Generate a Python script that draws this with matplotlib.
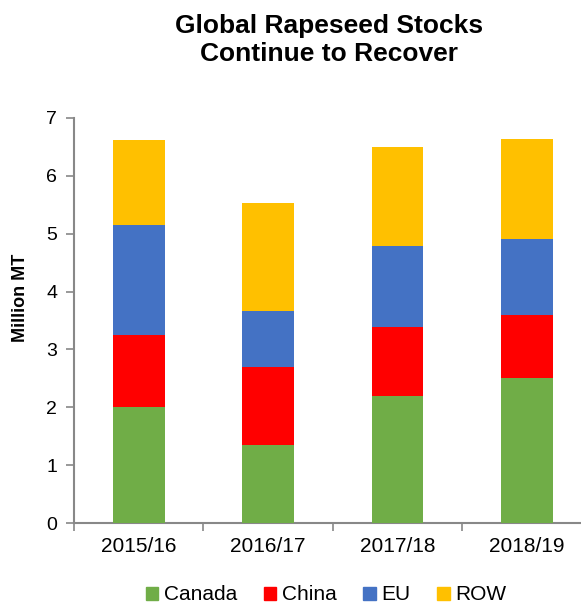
import matplotlib
matplotlib.use("Agg")
import matplotlib.pyplot as plt
import numpy as np
from matplotlib.patches import Patch

plt.rcParams['font.family'] = ['Liberation Sans', 'DejaVu Sans']

years = ["2015/16", "2016/17", "2017/18", "2018/19"]
canada = [2.01, 1.35, 2.20, 2.50]
china = [1.24, 1.34, 1.19, 1.09]
eu = [1.89, 0.98, 1.40, 1.31]
row = [1.48, 1.85, 1.70, 1.73]

series = [("Canada", canada, "#70AD47"), ("China", china, "#FF0000"),
          ("EU", eu, "#4472C4"), ("ROW", row, "#FFC000")]

fig = plt.figure(figsize=(5.81, 6.07), dpi=100)
ax = fig.add_axes([74/581, (607-523.3)/607, 1 - 74/581, (523.3-117.7)/607])

x = np.arange(len(years))
bottom = np.zeros(len(years))
for name, vals, col in series:
    ax.bar(x, vals, 0.4, bottom=bottom, color=col, label=name, zorder=3)
    bottom += np.array(vals)

ax.set_ylim(0, 7)
ax.set_xlim(-0.5, 3.418)
ax.set_yticks(range(0, 8))
ax.set_xticks(np.arange(-0.5, 3.5, 1), minor=True)
ax.set_xticks(x)
ax.set_xticklabels(years)
ax.tick_params(axis='x', which='major', length=0, pad=10, labelsize=15)
ax.tick_params(axis='x', which='minor', length=6, color="#888888", width=1.2)
ax.tick_params(axis='y', labelsize=14, length=6, color="#888888", width=1.2, pad=6)
for s in ["top", "right"]:
    ax.spines[s].set_visible(False)
for s in ["left", "bottom"]:
    ax.spines[s].set_color("#888888")
    ax.spines[s].set_linewidth(1.5)

fig.text(21/581, 1 - 298/607, "Million MT", rotation=90, fontsize=13,
         fontweight="bold", ha="center", va="center")
fig.text(329/581, 1 - 40/607, "Global Rapeseed Stocks\nContinue to Recover",
         fontsize=19, fontweight="bold", ha="center", va="center", linespacing=1.22)

handles = [Patch(color=c, label=n) for n, _, c in series]
fig.legend(handles=handles, loc="center", bbox_to_anchor=(326/581, 1 - 595/607),
           ncol=4, frameon=False, fontsize=15, handlelength=0.6, handleheight=0.6,
           handletextpad=0.25, columnspacing=1.3)

fig.savefig("out.png", dpi=100)
